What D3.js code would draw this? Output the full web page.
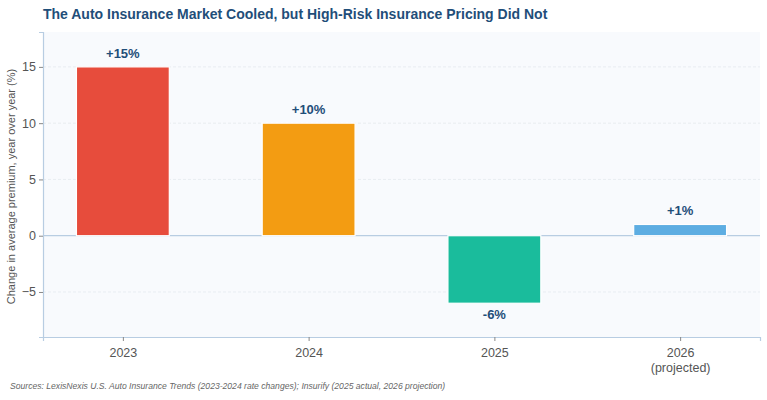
<!DOCTYPE html>
<html>
<head>
<meta charset="utf-8">
<script src="https://cdn.jsdelivr.net/npm/d3@7"></script>
<style>
  body { margin: 0; background: #fff; font-family: "Liberation Sans", Arial, sans-serif; }
</style>
</head>
<body>
<svg id="chart" width="767" height="400"></svg>
<script>
const years = ['2023', '2024', '2025', '2026'];
const subLabels = ['', '', '', '(projected)'];
const changes = [15, 10, -6, 1];
const valueLabels = ['+15%', '+10%', '-6%', '+1%'];
const barColors = ['#e74c3c', '#f39c12', '#1abc9c', '#5dade2'];
const yTicks = [-5, 0, 5, 10, 15];

const margin = { top: 32, right: 7, bottom: 63, left: 43 };
const width = 767 - margin.left - margin.right;
const height = 400 - margin.top - margin.bottom;

const svg = d3.select('#chart');
const g = svg.append('g').attr('transform', `translate(${margin.left},${margin.top})`);

const x = d3.scaleLinear().domain([-0.43, 3.43]).range([0, width]);
const y = d3.scaleLinear().domain([-9, 18.1]).range([height, 0]);
const barW = x(0.5) - x(0);

// plot background
g.append('rect').attr('width', width).attr('height', height).attr('fill', '#f8fafd');

// grid
g.selectAll('.grid').data(yTicks.filter(d => d !== 0)).enter().append('line')
  .attr('x1', 0).attr('x2', width)
  .attr('y1', d => y(d)).attr('y2', d => y(d))
  .attr('stroke', '#e3e8ee').attr('stroke-width', 0.8).attr('stroke-dasharray', '3,2');

// zero line
g.append('line').attr('x1', 0).attr('x2', width).attr('y1', y(0)).attr('y2', y(0))
  .attr('stroke', '#b8cde2').attr('stroke-width', 1.2);

// bars
g.selectAll('.bar').data(changes).enter().append('rect')
  .attr('x', (d, i) => x(i) - barW / 2)
  .attr('y', d => y(Math.max(0, d)))
  .attr('width', barW)
  .attr('height', d => Math.abs(y(d) - y(0)))
  .attr('fill', (d, i) => barColors[i])
  .attr('stroke', '#fff').attr('stroke-width', 1.2);

// value labels
g.selectAll('.val').data(changes).enter().append('text')
  .attr('x', (d, i) => x(i))
  .attr('y', d => d >= 0 ? y(d) - 9 : y(d) + 16)
  .attr('text-anchor', 'middle')
  .attr('font-size', 13).attr('font-weight', 'bold').attr('fill', '#1f4e79')
  .text((d, i) => valueLabels[i]);

// axes
const yAxis = g.append('g').call(d3.axisLeft(y).tickValues(yTicks).tickSize(4).tickFormat(d => d < 0 ? '\u2212' + Math.abs(d) : d));
const xAxis = g.append('g').attr('transform', `translate(0,${height})`)
  .call(d3.axisBottom(x).tickValues([0, 1, 2, 3]).tickSize(4).tickFormat(i => years[i]));
[yAxis, xAxis].forEach(a => {
  a.select('.domain').attr('stroke', '#b8cde2').attr('stroke-width', 1.2);
  a.selectAll('.tick line').attr('stroke', '#888');
  a.selectAll('.tick text').attr('fill', '#555').attr('font-size', 12.5)
    .attr('font-family', '"Liberation Sans", Arial, sans-serif');
});
xAxis.selectAll('.tick text').attr('dy', '1.05em');
xAxis.selectAll('.tick').append('text')
  .attr('y', 26).attr('dy', '0.71em').attr('text-anchor', 'middle')
  .attr('fill', '#555').attr('font-size', 12.5)
  .text(i => subLabels[i]);

// y label
g.append('text')
  .attr('transform', `translate(-28,${height / 2 + 2}) rotate(-90)`)
  .attr('text-anchor', 'middle').attr('font-size', 11).attr('fill', '#555')
  .text('Change in average premium, year over year (%)');

// title
svg.append('text').attr('x', 43).attr('y', 19)
  .attr('font-size', 14).attr('font-weight', 'bold').attr('fill', '#1f4e79')
  .text('The Auto Insurance Market Cooled, but High-Risk Insurance Pricing Did Not');

// source
svg.append('text').attr('x', 10).attr('y', 389)
  .attr('font-size', 8.6).attr('font-style', 'italic').attr('fill', '#666')
  .text('Sources: LexisNexis U.S. Auto Insurance Trends (2023-2024 rate changes); Insurify (2025 actual, 2026 projection)');
</script>
</body>
</html>
